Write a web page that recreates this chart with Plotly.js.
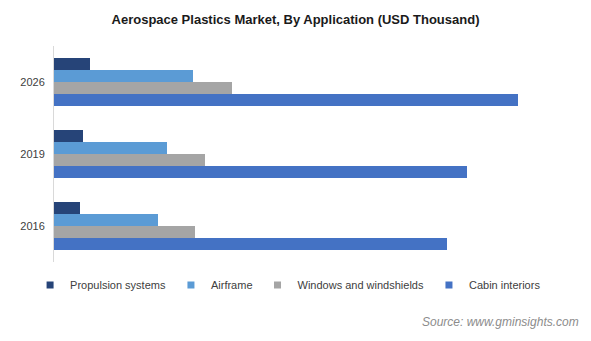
<!DOCTYPE html>
<html>
<head>
<meta charset="utf-8">
<script src="https://cdn.plot.ly/plotly-3.0.1.min.js"></script>
<style>html,body{margin:0;padding:0;background:#fff;}#chart{width:591px;height:341px;}</style>
</head>
<body>
<div id="chart"></div>
<script>
const years = ["2016", "2019", "2026"];
const propulsion = [26, 29, 36];
const airframe = [104, 113, 139];
const windows = [141, 151, 178];
const cabin = [393, 413, 464];
const seriesNames = ["Propulsion systems", "Airframe", "Windows and windshields", "Cabin interiors"];
const colors = ["#264478", "#5B9BD5", "#A5A5A5", "#4472C4"];
const values = [propulsion, airframe, windows, cabin];

const traces = [];
// bars drawn bottom-to-top within each group: cabin first so propulsion sits on top
for (let i = 3; i >= 0; i--) {
  traces.push({
    type: "bar", orientation: "h", y: years, x: values[i], name: seriesNames[i],
    marker: {color: colors[i]}, showlegend: false, hoverinfo: "x+name"
  });
}
// legend entries
for (let i = 0; i < 4; i++) {
  traces.push({
    type: "scatter", mode: "markers", x: [null], y: [null], name: seriesNames[i],
    marker: {symbol: "square", size: 7, color: colors[i]}, showlegend: true
  });
}

const layout = {
  width: 591, height: 341,
  margin: {l: 54, r: 17, t: 46, b: 79},
  paper_bgcolor: "#fff", plot_bgcolor: "#fff",
  font: {family: "Liberation Sans, Arial, sans-serif", color: "#404040", size: 11},
  title: {text: "<b>Aerospace Plastics Market, By Application (USD Thousand)</b>",
          font: {size: 13, color: "#1a1a1a"}, x: 0.5, xanchor: "center", y: 0.944, yanchor: "middle"},
  barmode: "group", bargap: 0.333, bargroupgap: 0,
  xaxis: {range: [0, 520], visible: false, showgrid: false, zeroline: false},
  yaxis: {type: "category", showline: true, linecolor: "#d9d9d9", linewidth: 1,
          ticks: "", showgrid: false, tickfont: {size: 11, color: "#404040"}, ticklabelstandoff: 6},
  showlegend: true,
  legend: {orientation: "h", x: -0.046, xanchor: "left", y: -0.106, yanchor: "middle",
           font: {size: 11, color: "#404040"}, bgcolor: "rgba(0,0,0,0)"},
  annotations: [{
    text: "<i>Source: www.gminsights.com</i>", xref: "paper", yref: "paper",
    x: 1.0135, xanchor: "right", y: -0.278, yanchor: "middle", showarrow: false,
    font: {size: 12, color: "#8c8c8c"}
  }]
};
Plotly.newPlot("chart", traces, layout, {displayModeBar: false, staticPlot: true});
</script>
</body>
</html>
